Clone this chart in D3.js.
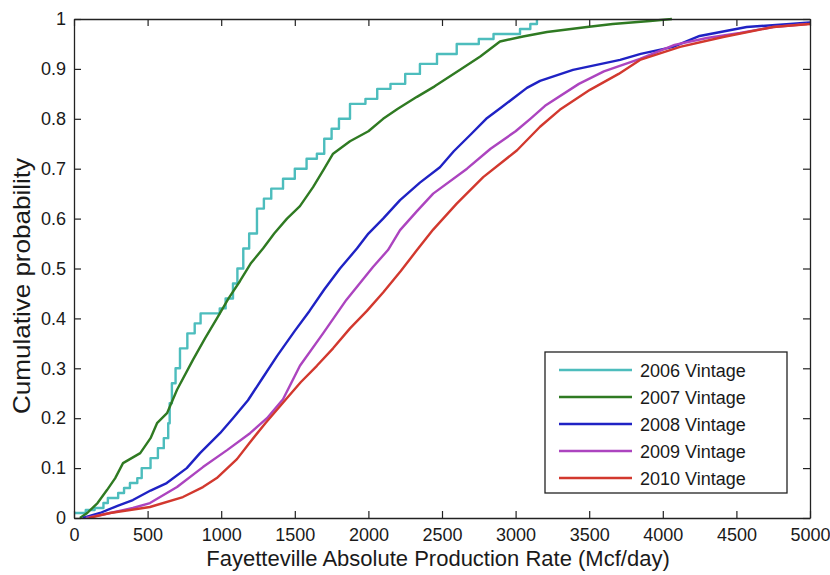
<!DOCTYPE html>
<html>
<head>
<meta charset="utf-8">
<script src="https://cdn.jsdelivr.net/npm/d3@7"></script>
<style>
  body { margin: 0; background: #fff; }
  text { font-family: "Liberation Sans", Arial, Helvetica, sans-serif; fill: #1a1a1a; }
</style>
</head>
<body>
<svg id="svg" width="830" height="575"></svg>
<script>
// values: [rate (Mcf/day), cumulative probability]
const vintage2006 = [[0,0.01],[80,0.016],[140,0.02],[200,0.03],[230,0.04],[300,0.05],[340,0.06],[380,0.07],[430,0.08],[460,0.1],
  [520,0.12],[570,0.14],[610,0.16],[640,0.19],[650,0.23],[665,0.27],[690,0.3],[720,0.34],[770,0.37],[820,0.39],[860,0.41],
  [990,0.42],[1030,0.44],[1080,0.47],[1110,0.5],[1150,0.54],[1190,0.57],[1243,0.62],[1290,0.64],[1340,0.66],[1420,0.68],
  [1500,0.7],[1580,0.72],[1650,0.73],[1700,0.76],[1750,0.78],[1800,0.8],[1875,0.83],[1980,0.84],[2060,0.86],[2150,0.87],
  [2250,0.89],[2350,0.91],[2466,0.93],[2600,0.95],[2750,0.96],[2850,0.97],[3030,0.98],[3100,0.99],[3145,1.0]];
const vintage2007 = [[40,0],[90,0.01],[160,0.03],[224,0.056],[280,0.08],[333,0.11],[450,0.13],[520,0.16],[564,0.19],[632,0.21],
  [700,0.257],[808,0.317],[890,0.36],[971,0.40],[1050,0.44],[1128,0.475],[1200,0.51],[1284,0.54],[1360,0.57],[1447,0.60],
  [1535,0.625],[1624,0.663],[1700,0.70],[1760,0.73],[1875,0.755],[2000,0.775],[2100,0.80],[2200,0.82],[2330,0.844],
  [2450,0.865],[2620,0.898],[2760,0.925],[2894,0.955],[3050,0.965],[3213,0.974],[3485,0.984],[3660,0.99],[3913,0.996],[4062,1.0]];
const vintage2008 = [[60,0],[177,0.01],[300,0.025],[400,0.036],[520,0.055],[630,0.07],[766,0.10],[856,0.13],[992,0.17],
  [1080,0.20],[1182,0.236],[1280,0.28],[1380,0.325],[1500,0.375],[1600,0.415],[1700,0.458],[1807,0.50],[1922,0.54],
  [2000,0.57],[2100,0.60],[2215,0.637],[2350,0.672],[2486,0.703],[2580,0.735],[2700,0.77],[2800,0.80],[2900,0.822],
  [3077,0.862],[3166,0.876],[3390,0.898],[3710,0.918],[3850,0.93],[4070,0.944],[4250,0.966],[4570,0.984],[4864,0.99],[5000,0.993]];
const vintage2009 = [[80,0],[245,0.01],[400,0.02],[516,0.03],[700,0.062],[876,0.102],[1040,0.136],[1196,0.17],[1311,0.2],
  [1420,0.238],[1535,0.305],[1692,0.37],[1850,0.437],[2031,0.503],[2133,0.537],[2215,0.577],[2330,0.615],[2440,0.65],
  [2670,0.70],[2830,0.74],[3000,0.775],[3100,0.80],[3200,0.826],[3430,0.87],[3600,0.895],[3845,0.92],[4080,0.948],
  [4300,0.962],[4524,0.972],[4750,0.984],[4980,0.99]];
const vintage2010 = [[100,0],[245,0.01],[516,0.022],[740,0.042],[876,0.062],[970,0.08],[1107,0.118],[1196,0.152],[1300,0.19],
  [1440,0.238],[1540,0.272],[1650,0.305],[1760,0.34],[1875,0.38],[1990,0.415],[2100,0.452],[2220,0.495],[2330,0.537],
  [2440,0.578],[2600,0.63],[2780,0.683],[3010,0.737],[3166,0.784],[3300,0.818],[3505,0.858],[3700,0.89],[3845,0.918],
  [4117,0.944],[4410,0.964],[4750,0.984],[5000,0.99]];

const seriesNames = ['2006 Vintage', '2007 Vintage', '2008 Vintage', '2009 Vintage', '2010 Vintage'];
const seriesData = [vintage2006, vintage2007, vintage2008, vintage2009, vintage2010];
const seriesColors = ['#4dbdbd', '#2f7a22', '#1f22c4', '#ac44bf', '#d2382e'];
const xTicks = [0, 500, 1000, 1500, 2000, 2500, 3000, 3500, 4000, 4500, 5000];
const yTicks = [0, 0.1, 0.2, 0.3, 0.4, 0.5, 0.6, 0.7, 0.8, 0.9, 1];

const svg = d3.select('#svg');
const plotLeft = 74, plotRight = 810, plotTop = 19, plotBottom = 518;

const x = d3.scaleLinear().domain([0, 5000]).range([plotLeft, plotRight]);
const y = d3.scaleLinear().domain([0, 1]).range([plotBottom, plotTop]);

// curves, clipped to the axes box
svg.append('clipPath').attr('id', 'plot')
  .append('rect').attr('x', plotLeft).attr('y', plotTop - 2)
  .attr('width', plotRight - plotLeft).attr('height', plotBottom - plotTop + 2);

const g = svg.append('g').attr('clip-path', 'url(#plot)');
seriesData.forEach((d, i) => {
  let line = d3.line()
    .x(p => x(p[0]))
    .y(p => y(p[1]))
    .curve(i == 0 ? d3.curveStepAfter : d3.curveLinear);
  g.append('path')
    .datum(d)
    .attr('d', line)
    .attr('fill', 'none')
    .attr('stroke', seriesColors[i])
    .attr('stroke-width', 2.4)
    .attr('stroke-linejoin', 'round');
});

// axes with inward ticks on all four sides
function styleAxis(sel) {
  sel.selectAll('.domain').attr('stroke', '#222').attr('stroke-width', 1.3);
  sel.selectAll('.tick line').attr('stroke', '#222').attr('stroke-width', 1.2);
  sel.selectAll('text').style('font-size', '18px').attr('fill', '#1a1a1a');
}

svg.append('g').attr('transform', `translate(0,${plotBottom})`)
  .call(d3.axisBottom(x).tickValues(xTicks).tickSizeInner(-7).tickSizeOuter(0).tickPadding(10).tickFormat(d3.format('d')))
  .call(styleAxis);
svg.append('g').attr('transform', `translate(0,${plotTop})`)
  .call(d3.axisTop(x).tickValues(xTicks).tickSizeInner(-7).tickSizeOuter(0).tickFormat(''))
  .call(styleAxis);
svg.append('g').attr('transform', `translate(${plotLeft},0)`)
  .call(d3.axisLeft(y).tickValues(yTicks).tickSizeInner(-7).tickSizeOuter(0).tickPadding(8).tickFormat(d => String(+d.toFixed(1))))
  .call(styleAxis);
svg.append('g').attr('transform', `translate(${plotRight},0)`)
  .call(d3.axisRight(y).tickValues(yTicks).tickSizeInner(-7).tickSizeOuter(0).tickFormat(''))
  .call(styleAxis);

// axis titles
svg.append('text')
  .attr('x', 438).attr('y', 566)
  .attr('text-anchor', 'middle')
  .style('font-size', '22px')
  .text('Fayetteville Absolute Production Rate (Mcf/day)');

svg.append('text')
  .attr('transform', 'translate(30,286) rotate(-90)')
  .attr('text-anchor', 'middle')
  .attr('textLength', 256)
  .attr('lengthAdjust', 'spacingAndGlyphs')
  .style('font-size', '24px')
  .text('Cumulative probability');

// legend
const legend = svg.append('g');
legend.append('rect')
  .attr('x', 545).attr('y', 352).attr('width', 242).attr('height', 141)
  .attr('fill', '#fff').attr('stroke', '#222').attr('stroke-width', 1.3);
seriesNames.forEach((name, i) => {
  let ly = 370 + i * 27;
  legend.append('line')
    .attr('x1', 559).attr('x2', 632).attr('y1', ly).attr('y2', ly)
    .attr('stroke', seriesColors[i]).attr('stroke-width', 2.4);
  legend.append('text')
    .attr('x', 640).attr('y', ly + 6.5)
    .style('font-size', '18px')
    .text(name);
});
</script>
</body>
</html>
